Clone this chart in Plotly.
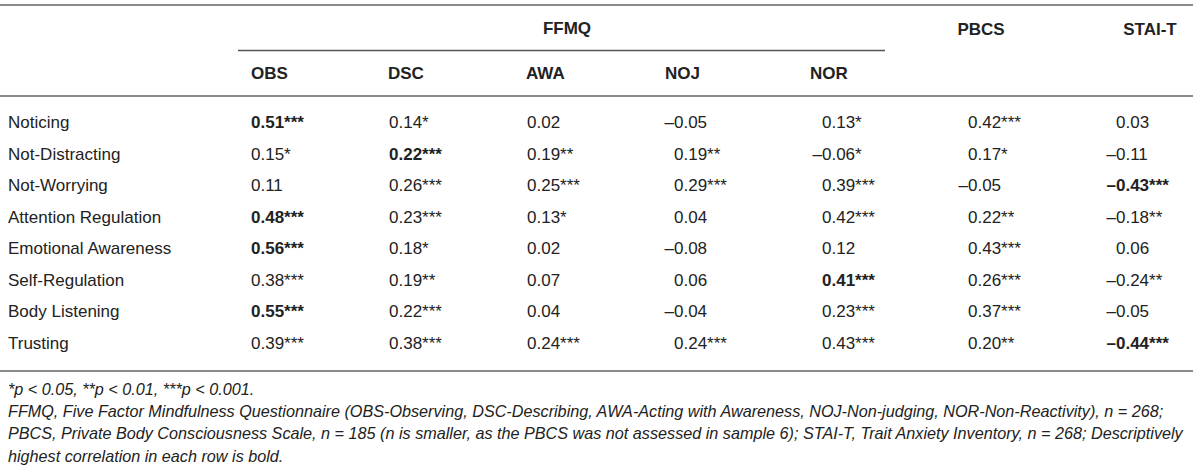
import plotly.graph_objects as go

# ---------------- data ----------------
row_labels = ["Noticing", "Not-Distracting", "Not-Worrying", "Attention Regulation",
              "Emotional Awareness", "Self-Regulation", "Body Listening", "Trusting"]
col_labels = ["OBS", "DSC", "AWA", "NOJ", "NOR", "PBCS", "STAI-T"]
group_labels = ["FFMQ", "PBCS", "STAI-T"]

obs = [0.51, 0.15, 0.11, 0.48, 0.56, 0.38, 0.55, 0.39]
obs_stars = [3, 1, 0, 3, 3, 3, 3, 3]
dsc = [0.14, 0.22, 0.26, 0.23, 0.18, 0.19, 0.22, 0.38]
dsc_stars = [1, 3, 3, 3, 1, 2, 3, 3]
awa = [0.02, 0.19, 0.25, 0.13, 0.02, 0.07, 0.04, 0.24]
awa_stars = [0, 2, 3, 1, 0, 0, 0, 3]
noj = [-0.05, 0.19, 0.29, 0.04, -0.08, 0.06, -0.04, 0.24]
noj_stars = [0, 2, 3, 0, 0, 0, 0, 3]
nor = [0.13, -0.06, 0.39, 0.42, 0.12, 0.41, 0.23, 0.43]
nor_stars = [1, 1, 3, 3, 0, 3, 3, 3]
pbcs = [0.42, 0.17, -0.05, 0.22, 0.43, 0.26, 0.37, 0.20]
pbcs_stars = [3, 1, 0, 2, 3, 3, 3, 2]
stai = [0.03, -0.11, -0.43, -0.18, 0.06, -0.24, -0.05, -0.44]
stai_stars = [0, 0, 3, 2, 0, 2, 0, 3]

# bold = descriptively highest correlation in each row: (row, column)
bold_cells = [(0, 0), (1, 1), (2, 6), (3, 0), (4, 0), (5, 4), (6, 0), (7, 6)]

footnotes = [
    "*p < 0.05, **p < 0.01, ***p < 0.001.",
    "FFMQ, Five Factor Mindfulness Questionnaire (OBS-Observing, DSC-Describing, AWA-Acting with Awareness, NOJ-Non-judging, NOR-Non-Reactivity), n = 268;",
    "PBCS, Private Body Consciousness Scale, n = 185 (n is smaller, as the PBCS was not assessed in sample 6); STAI-T, Trait Anxiety Inventory, n = 268; Descriptively",
    "highest correlation in each row is bold.",
]

columns = [(obs, obs_stars), (dsc, dsc_stars), (awa, awa_stars), (noj, noj_stars),
           (nor, nor_stars), (pbcs, pbcs_stars), (stai, stai_stars)]

# ---------------- layout constants (pixel space) ----------------
W, H = 1200, 471
FONT = "Liberation Sans, Arial, sans-serif"
TXT = "#222222"
FS = 17
label_x = 8
digit_x = [251, 389, 527, 674, 822, 968, 1116]
header_x = [251, 388, 526, 665, 810]
minus_w = 9.5
row_y0, row_dy = 124, 31.5
header_y = 75
group_y = 30
group_x = [567, 981, 1150]
line_right = 1193
foot_y0, foot_dy = 391, 22.2

fig = go.Figure()

row_y = [row_y0 + i * row_dy for i in range(len(row_labels))]

# row labels
fig.add_trace(go.Scatter(
    x=[label_x] * len(row_labels), y=row_y, text=row_labels, mode="text",
    textposition="middle right", textfont=dict(family=FONT, size=FS, color=TXT),
    hoverinfo="skip", showlegend=False))

# cells
for ci, (vals, stars) in enumerate(columns):
    xs, ys, ts = [], [], []
    for ri, (v, s) in enumerate(zip(vals, stars)):
        t = ("\u2013" if v < 0 else "") + f"{abs(v):.2f}" + "*" * s
        if (ri, ci) in bold_cells:
            t = f"<b>{t}</b>"
        xs.append(digit_x[ci] - (minus_w if v < 0 else 0))
        ys.append(row_y[ri])
        ts.append(t)
    fig.add_trace(go.Scatter(
        x=xs, y=ys, text=ts, mode="text", textposition="middle right",
        textfont=dict(family=FONT, size=FS, color=TXT),
        hoverinfo="skip", showlegend=False))

# sub-column headers (FFMQ subscales)
fig.add_trace(go.Scatter(
    x=header_x, y=[header_y] * 5, text=[f"<b>{c}</b>" for c in col_labels[:5]],
    mode="text", textposition="middle right",
    textfont=dict(family=FONT, size=FS, color=TXT),
    hoverinfo="skip", showlegend=False))

# group headers
fig.add_trace(go.Scatter(
    x=group_x, y=[group_y, group_y + 1, group_y + 1], text=[f"<b>{g}</b>" for g in group_labels],
    mode="text", textposition="middle center",
    textfont=dict(family=FONT, size=FS, color=TXT),
    hoverinfo="skip", showlegend=False))

# footnotes
fig.add_trace(go.Scatter(
    x=[label_x] * len(footnotes), y=[foot_y0 + i * foot_dy for i in range(len(footnotes))],
    text=[f"<i>{f}</i>" for f in footnotes], mode="text", textposition="middle right",
    textfont=dict(family=FONT, size=16.2, color=TXT),
    hoverinfo="skip", showlegend=False))

# rules
def hline(x0, x1, y, color, width):
    fig.add_shape(type="line", x0=x0, x1=x1, y0=y, y1=y, xref="x", yref="y",
                  line=dict(color=color, width=width))

hline(0, line_right, 5, "#8a8a8a", 2.2)
hline(238, 885, 50.5, "#555555", 1.3)
hline(0, line_right, 96, "#8a8a8a", 1.8)
hline(0, line_right, 371, "#8a8a8a", 1.8)

fig.update_layout(
    width=W, height=H, margin=dict(l=0, r=0, t=0, b=0),
    paper_bgcolor="white", plot_bgcolor="white",
    xaxis=dict(range=[0, W], visible=False, fixedrange=True),
    yaxis=dict(range=[H, 0], visible=False, fixedrange=True),
    showlegend=False,
)

fig.write_html("out.html", config={"displayModeBar": False},
               post_script="document.body.style.margin='0';document.body.style.overflow='hidden';")
